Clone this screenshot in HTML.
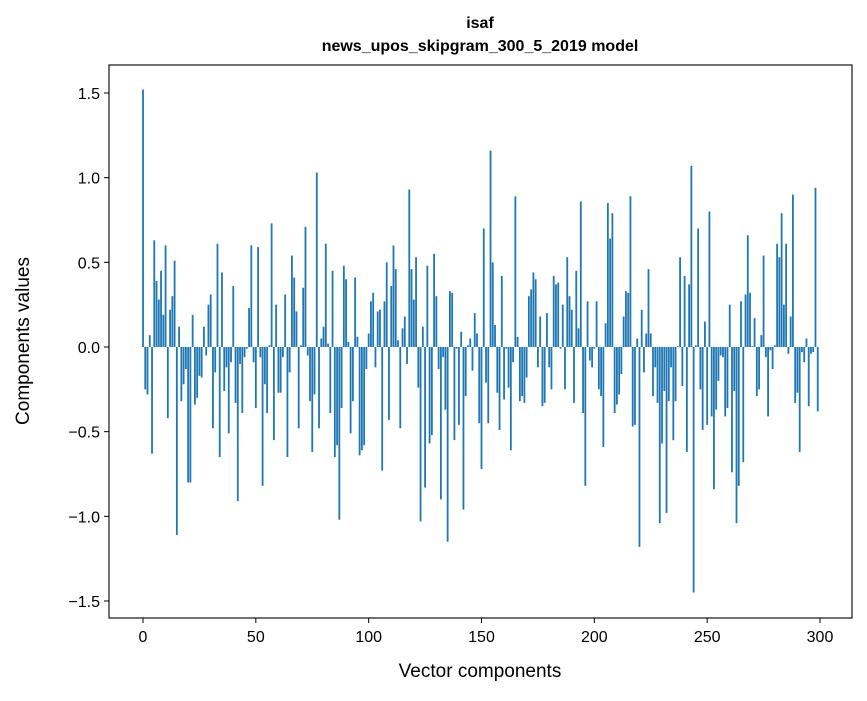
<!DOCTYPE html>
<html><head><meta charset="utf-8"><style>
body{margin:0;background:#fff}
svg text{font-family:"Liberation Sans","DejaVu Sans",sans-serif;fill:#000}
</style></head><body>
<svg id="chart" width="867" height="696" viewBox="0 0 867 696" xmlns="http://www.w3.org/2000/svg">
<rect width="867" height="696" fill="#fff"/>
<text x="480" y="28" text-anchor="middle" font-size="16" font-weight="bold">isaf</text>
<text x="480" y="51" text-anchor="middle" font-size="16" font-weight="bold">news_upos_skipgram_300_5_2019 model</text>
<g id="bars"></g>
<g id="axes"></g>
<text x="480" y="677" text-anchor="middle" font-size="19">Vector components</text>
<text transform="translate(29,341) rotate(-90)" text-anchor="middle" font-size="19">Components values</text>
</svg>
<script>
const values = [1.52,-0.25,-0.28,0.07,-0.63,0.63,0.39,0.28,0.45,0.19,0.60,-0.42,0.22,0.30,0.51,-1.11,0.12,-0.32,-0.22,-0.13,-0.80,-0.80,0.19,-0.34,-0.30,-0.17,-0.18,0.12,-0.05,0.25,0.31,-0.48,-0.15,0.61,-0.65,0.44,-0.26,-0.12,-0.51,-0.09,0.36,-0.33,-0.91,-0.10,-0.39,-0.06,-0.01,0.23,0.60,-0.09,
-0.36,0.59,-0.06,-0.82,-0.22,-0.39,0.01,0.73,-0.55,0.25,-0.27,-0.27,-0.06,0.31,-0.65,-0.15,0.54,0.41,0.21,-0.48,0.01,0.35,0.71,-0.05,-0.32,-0.62,-0.28,1.03,-0.48,0.05,0.12,0.61,0.02,-0.39,0.45,-0.65,-0.58,-1.02,-0.36,0.48,0.40,0.03,-0.51,-0.32,0.41,0.06,-0.64,-0.61,-0.58,-0.13,
0.08,0.27,0.32,-0.12,0.21,0.22,-0.73,0.27,0.50,-0.43,0.36,0.60,0.46,0.04,-0.48,0.11,0.18,-0.10,0.93,0.46,0.28,0.53,-0.24,-1.03,0.12,-0.83,0.48,-0.57,-0.52,0.55,0.30,-0.13,-0.90,-0.06,-0.37,-1.15,0.33,0.32,-0.55,-0.01,-0.46,0.09,-0.96,-0.29,0.01,0.05,-0.14,0.20,0.08,-0.45,
-0.72,0.70,-0.21,-0.45,1.16,0.50,0.13,-0.27,-0.49,0.42,-0.31,-0.01,-0.24,-0.61,-0.09,0.89,0.06,-0.32,-0.29,-0.33,-0.18,0.30,0.34,0.44,0.40,-0.12,0.18,-0.35,-0.33,0.20,-0.12,-0.25,0.42,0.37,0.38,-0.01,0.25,-0.25,0.53,0.30,0.22,-0.33,0.45,0.11,0.86,-0.39,-0.82,0.27,-0.08,-0.12,
-0.01,0.27,-0.25,-0.29,-0.59,0.14,0.85,0.64,0.79,-0.39,-0.34,-0.28,-0.16,0.18,0.33,0.32,0.89,-0.47,-0.46,0.05,-1.18,0.22,-0.15,0.08,0.46,0.08,-0.29,-0.12,-0.33,-1.04,-0.57,-0.26,-0.98,-0.32,-0.12,-0.55,-0.32,0.005,0.53,-0.23,0.42,-0.62,0.37,1.07,-1.45,0.01,0.70,-0.25,-0.49,0.15,
-0.46,0.80,-0.41,-0.84,-0.37,-0.20,-0.05,-0.06,-0.41,-0.36,0.25,-0.74,-0.26,-1.04,-0.82,0.27,-0.68,0.31,0.66,0.32,0.005,0.17,-0.29,-0.25,0.07,0.54,-0.06,-0.41,-0.02,-0.13,0.01,0.61,0.53,0.79,0.25,0.61,-0.04,0.18,0.90,-0.33,-0.27,-0.62,-0.03,-0.09,0.05,-0.35,-0.04,-0.03,0.94,-0.38];
const xTicks = [0,50,100,150,200,250,300];
const yTicks = [-1.5,-1.0,-0.5,0.0,0.5,1.0,1.5];
const yTickLabels = ["\u22121.5","\u22121.0","\u22120.5","0.0","0.5","1.0","1.5"];

const NS="http://www.w3.org/2000/svg";
const L=109,R=852,T=65,B=618;
const xScale=v=>143+v*(677/300);
const yScale=v=>347-v*(254/1.5);
const bw=0.8*(677/300);
const gb=document.getElementById('bars');
values.forEach((v,i)=>{
  const r=document.createElementNS(NS,'rect');
  const y0=yScale(0),y1=yScale(v);
  r.setAttribute('x',xScale(i)-bw/2);
  r.setAttribute('y',Math.min(y0,y1));
  r.setAttribute('width',bw);
  r.setAttribute('height',Math.abs(y1-y0));
  r.setAttribute('fill','#1f77b4');
  
  
  gb.appendChild(r);
});
const ga=document.getElementById('axes');
const frame=document.createElementNS(NS,'rect');
frame.setAttribute('x',L);frame.setAttribute('y',T);frame.setAttribute('width',R-L);frame.setAttribute('height',B-T);
frame.setAttribute('fill','none');frame.setAttribute('stroke','#000');frame.setAttribute('stroke-width','1.1');


ga.appendChild(frame);
xTicks.forEach(t=>{
  const x=xScale(t);
  const ln=document.createElementNS(NS,'line');
  ln.setAttribute('x1',x);ln.setAttribute('x2',x);ln.setAttribute('y1',B);ln.setAttribute('y2',B+5);ln.setAttribute('stroke','#000');
  
  
  ga.appendChild(ln);
  const tx=document.createElementNS(NS,'text');
  tx.setAttribute('x',x);tx.setAttribute('y',B+24);tx.setAttribute('text-anchor','middle');tx.setAttribute('font-size','16');
  tx.textContent=t;
  
  
  ga.appendChild(tx);
});
yTicks.forEach((t,i)=>{
  const y=yScale(t);
  const ln=document.createElementNS(NS,'line');
  ln.setAttribute('x1',L-5);ln.setAttribute('x2',L);ln.setAttribute('y1',y);ln.setAttribute('y2',y);ln.setAttribute('stroke','#000');
  
  
  ga.appendChild(ln);
  const tx=document.createElementNS(NS,'text');
  tx.setAttribute('x',L-9);tx.setAttribute('y',y+6);tx.setAttribute('text-anchor','end');tx.setAttribute('font-size','16');
  tx.textContent=yTickLabels[i];
  
  
  ga.appendChild(tx);
});
</script>
</body></html>
